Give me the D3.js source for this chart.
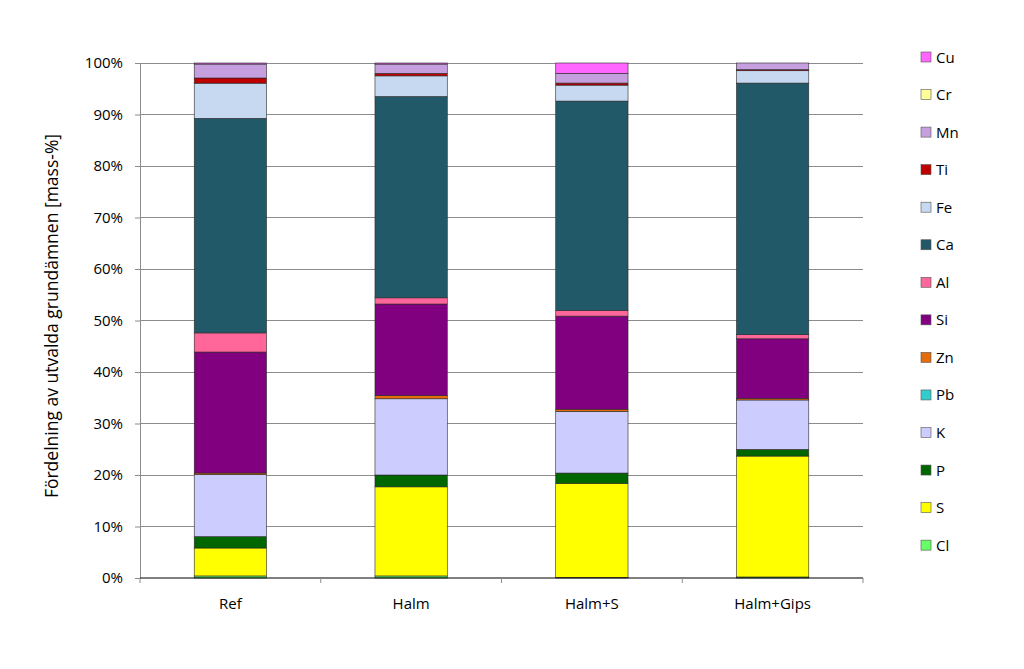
<!DOCTYPE html>
<html><head><meta charset="utf-8">
<script src="https://cdn.jsdelivr.net/npm/d3@7"></script>
<style>body{margin:0;background:#fff}svg{display:block}text{font-family:"Open Sans","Liberation Sans",sans-serif}</style>
</head><body><svg id="c" width="1024" height="669"></svg>
<script>
const categories = ["Ref", "Halm", "Halm+S", "Halm+Gips"];
const elements = ["Cl","S","P","K","Pb","Zn","Si","Al","Ca","Fe","Ti","Mn","Cr","Cu"];
const colors = ["#66FF66","#FFFF00","#006600","#CCCCFF","#33CCCC","#E46C0A","#800080","#FF6699","#215968","#C6D9F1","#C00000","#C69FDF","#FFFF99","#FF66FF"];
const Cl = [0.4, 0.4, 0.1, 0.2];
const S  = [5.4, 17.3, 18.3, 23.5];
const P  = [2.2, 2.3, 2.0, 1.3];
const K  = [12.0, 14.8, 12.0, 9.6];
const Pb = [0.0, 0.0, 0.0, 0.0];
const Zn = [0.3, 0.6, 0.4, 0.3];
const Si = [23.4, 17.8, 18.1, 11.6];
const Al = [3.7, 1.2, 1.1, 0.8];
const Ca = [41.5, 39.1, 40.7, 48.9];
const Fe = [6.8, 4.0, 3.1, 2.4];
const Ti = [1.0, 0.5, 0.4, 0.2];
const Mn = [2.7, 1.8, 1.9, 1.3];
const Cr = [0.0, 0.0, 0.0, 0.0];
const Cu = [0.2, 0.2, 2.0, 0.0];
const yTicks = [0,0.1,0.2,0.3,0.4,0.5,0.6,0.7,0.8,0.9,1.0];

const series = {Cl,S,P,K,Pb,Zn,Si,Al,Ca,Fe,Ti,Mn,Cr,Cu};
const table = categories.map((c,i)=>{const o={cat:c}; elements.forEach(e=>o[e]=series[e][i]); return o;});
const stack = d3.stack().keys(elements).offset(d3.stackOffsetExpand)(table);

const svg = d3.select("#c");
const L=140,R=863,T=63,B=578;
const x = d3.scaleBand().domain(categories).range([L,R]).paddingInner(0.6).paddingOuter(0.3);
const y = d3.scaleLinear().domain([0,1]).range([B,T]);
const color = d3.scaleOrdinal().domain(elements).range(colors);
const FF = "'Open Sans','Liberation Sans',sans-serif";

// gridlines
svg.append("g").selectAll("line").data(yTicks.filter(d=>d>0)).join("line")
  .attr("x1",L).attr("x2",R).attr("y1",d=>y(d)).attr("y2",d=>y(d))
  .attr("stroke","#8c8c8c").attr("stroke-width",1).attr("shape-rendering","crispEdges");

// y axis
const ya = svg.append("g").attr("transform",`translate(${L},0)`)
  .call(d3.axisLeft(y).tickValues(yTicks).tickFormat(d3.format(".0%")).tickSize(5).tickPadding(12));
ya.select(".domain").attr("stroke","#8c8c8c");
ya.selectAll(".tick line").attr("stroke","#8c8c8c");
ya.selectAll("text").attr("font-size",15).attr("fill","#000").attr("font-family",FF);

// bars
svg.append("g").selectAll("g").data(stack).join("g").attr("fill",d=>color(d.key))
  .selectAll("rect").data(d=>d).join("rect")
  .attr("x",d=>x(d.data.cat)).attr("width",x.bandwidth())
  .attr("y",d=>y(d[1])).attr("height",d=>Math.max(0,y(d[0])-y(d[1])))
  .attr("stroke","#2a2a2a").attr("stroke-width",0.6);

// x axis
const xa = svg.append("g").attr("transform",`translate(0,${B})`)
  .call(d3.axisBottom(x).tickSize(0).tickPadding(20));
xa.select(".domain").remove();
svg.append("line").attr("x1",L).attr("x2",R).attr("y1",B).attr("y2",B).attr("stroke","#000").attr("stroke-width",1.2);
const bounds = d3.range(categories.length+1).map(i=>L+i*(R-L)/categories.length);
svg.append("g").selectAll("line").data(bounds).join("line")
  .attr("x1",d=>d).attr("x2",d=>d).attr("y1",B).attr("y2",B+5).attr("stroke","#8c8c8c");
xa.selectAll("text").attr("font-size",15).attr("fill","#000").attr("font-family",FF);

// y title
svg.append("text").attr("transform","translate(58,316) rotate(-90)").attr("text-anchor","middle")
  .attr("font-size",17.5).text("Fördelning av utvalda grundämnen  [mass-%]");

// legend
const legOrder = elements.slice().reverse();
const lg = svg.append("g").selectAll("g").data(legOrder).join("g")
  .attr("transform",(d,i)=>`translate(921,${57+i*37.55})`);
lg.append("rect").attr("x",0).attr("y",-5).attr("width",10).attr("height",10)
  .attr("fill",d=>color(d)).attr("stroke","#555").attr("stroke-width",0.6);
lg.append("text").attr("x",15).attr("y",5.5).attr("font-size",15).text(d=>d);
</script></body></html>
